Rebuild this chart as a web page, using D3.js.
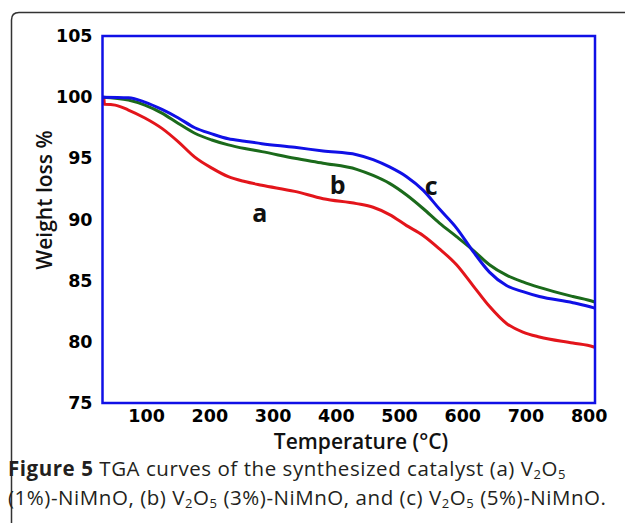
<!DOCTYPE html>
<html>
<head>
<meta charset="utf-8">
<script src="https://cdn.jsdelivr.net/npm/d3@7"></script>
<style>
  body { margin: 0; background: #fff; }
  svg { display: block; }
</style>
</head>
<body>
<svg id="chart" width="625" height="523"></svg>
<script>
// TGA curves, temperature (°C) vs remaining weight (%)
const temps = [31, 35, 72, 98, 125, 151, 177, 204, 230, 256, 283, 335, 380, 433, 459, 485, 512, 538, 564, 591, 617, 643, 670, 696, 722, 775, 807, 810];
const curveA = [100.0, 99.4, 98.95, 98.3, 97.45, 96.35, 95.1, 94.2, 93.5, 93.1, 92.8, 92.3, 91.7, 91.3, 91.0, 90.4, 89.5, 88.7, 87.6, 86.3, 84.6, 82.9, 81.5, 80.8, 80.4, 79.9, 79.6, 79.55];
const curveB = [100.0, 100.0, 99.77, 99.35, 98.7, 97.85, 97.05, 96.5, 96.1, 95.8, 95.55, 95.0, 94.6, 94.1, 93.6, 92.95, 92.0, 90.9, 89.7, 88.6, 87.5, 86.3, 85.45, 84.9, 84.45, 83.7, 83.3, 83.25];
const curveC = [100.0, 100.0, 99.95, 99.6, 99.0, 98.3, 97.5, 97.0, 96.6, 96.4, 96.2, 95.9, 95.6, 95.3, 94.9, 94.3, 93.5, 92.4, 90.85, 89.3, 87.4, 85.7, 84.6, 84.1, 83.7, 83.2, 82.8, 82.75];
// small step at the start of curve a
const stepA = [[31, 100.0], [33, 100.0], [34, 99.42], [51, 99.35]];

const seriesNames = ["a", "b", "c"];
const seriesColors = ["#e3151b", "#1b6a1b", "#1010e6"];
const labelPos = [[280, 89.8], [403, 92.1], [551, 92.0]];
const xTicks = [100, 200, 300, 400, 500, 600, 700, 800];
const yTicks = [75, 80, 85, 90, 95, 100, 105];

const svg = d3.select("#chart");
const margin = { top: 36, left: 102.5 };
const width = 492.5, height = 367;

// figure frame (rounded, open to the right/bottom)
svg.append("path")
  .attr("d", "M11.5,530 L11.5,20 Q11.5,12.5 19,12.5 L640,12.5")
  .attr("fill", "none").attr("stroke", "#333").attr("stroke-width", 1.5);

const x = d3.scaleLinear().domain([31, 810]).range([0, width]);
const y = d3.scaleLinear().domain([75, 105]).range([height, 0]);

const g = svg.append("g").attr("transform", `translate(${margin.left},${margin.top})`);

const xAxis = g.append("g").attr("transform", `translate(0,${height})`)
  .call(d3.axisBottom(x).tickValues(xTicks).tickSize(0).tickPadding(7));
const yAxis = g.append("g")
  .call(d3.axisLeft(y).tickValues(yTicks).tickSize(0).tickPadding(10));

[xAxis, yAxis].forEach(a => {
  a.select(".domain").remove();
  a.selectAll("text")
    .attr("font-family", "DejaVu Sans")
    .attr("font-weight", "bold")
    .attr("font-size", 17.5)
    .attr("fill", "#000");
});

const line = d3.line().x(d => x(d[0])).y(d => y(d[1])).curve(d3.curveMonotoneX);
const straight = d3.line().x(d => x(d[0])).y(d => y(d[1]));

const dataA = stepA.concat(temps.slice(2).map((t, i) => [t, curveA[i + 2]]));
const dataB = temps.map((t, i) => [t, curveB[i]]).filter((d, i) => i !== 1);
const dataC = temps.map((t, i) => [t, curveC[i]]).filter((d, i) => i !== 1);

[dataA, dataB, dataC].forEach((d, i) => {
  const path = i === 0
    ? straight(d.slice(0, 3)) + line(d.slice(2)).replace(/^M/, "L")
    : line(d);
  g.append("path")
    .attr("fill", "none")
    .attr("stroke", seriesColors[i])
    .attr("stroke-width", 3)
    .attr("stroke-linejoin", "round")
    .attr("d", path);
});

// plot frame
g.append("rect")
  .attr("width", width).attr("height", height)
  .attr("fill", "none").attr("stroke", "#1010e6").attr("stroke-width", 2.5);

// curve labels
seriesNames.forEach((n, i) => {
  g.append("text")
    .attr("x", x(labelPos[i][0])).attr("y", y(labelPos[i][1]))
    .attr("text-anchor", "middle")
    .attr("font-family", "Open Sans").attr("font-weight", "bold").attr("font-size", 25)
    .attr("fill", "#111")
    .text(n);
});

// axis titles
svg.append("text")
  .attr("x", 361).attr("y", 449)
  .attr("text-anchor", "middle")
  .attr("font-family", "Open Sans").attr("font-weight", 600).attr("font-size", 21)
  .attr("fill", "#111")
  .text("Temperature (°C)");

svg.append("text")
  .attr("transform", "translate(52,200) rotate(-90)")
  .attr("text-anchor", "middle")
  .attr("font-family", "Open Sans").attr("font-weight", 600).attr("font-size", 21)
  .attr("fill", "#111")
  .text("Weight loss %");

// caption
const cap = svg.append("g")
  .attr("font-family", "Open Sans").attr("font-size", 20.5)
  .attr("letter-spacing", 0.55).attr("fill", "#231f20");

const l1 = cap.append("text").attr("x", 8).attr("y", 476);
l1.append("tspan").attr("font-weight", "bold").text("Figure 5");
l1.append("tspan").text(" TGA curves of the synthesized catalyst (a) V");
l1.append("tspan").attr("font-size", 13).attr("dy", 3).text("2");
l1.append("tspan").attr("dy", -3).text("O");
l1.append("tspan").attr("font-size", 13).attr("dy", 3).text("5");

const l2 = cap.append("text").attr("x", 8).attr("y", 505);
const parts = [["(1%)-NiMnO, (b) V", 0], ["2", 1], ["O", 0], ["5", 1], [" (3%)-NiMnO, and (c) V", 0], ["2", 1], ["O", 0], ["5", 1], [" (5%)-NiMnO.", 0]];
let prevSub = 0;
parts.forEach(([t, sub]) => {
  const ts = l2.append("tspan").text(t).attr("dy", sub === prevSub ? 0 : (sub ? 3 : -3));
  if (sub) ts.attr("font-size", 13);
  prevSub = sub;
});
</script>
</body>
</html>
